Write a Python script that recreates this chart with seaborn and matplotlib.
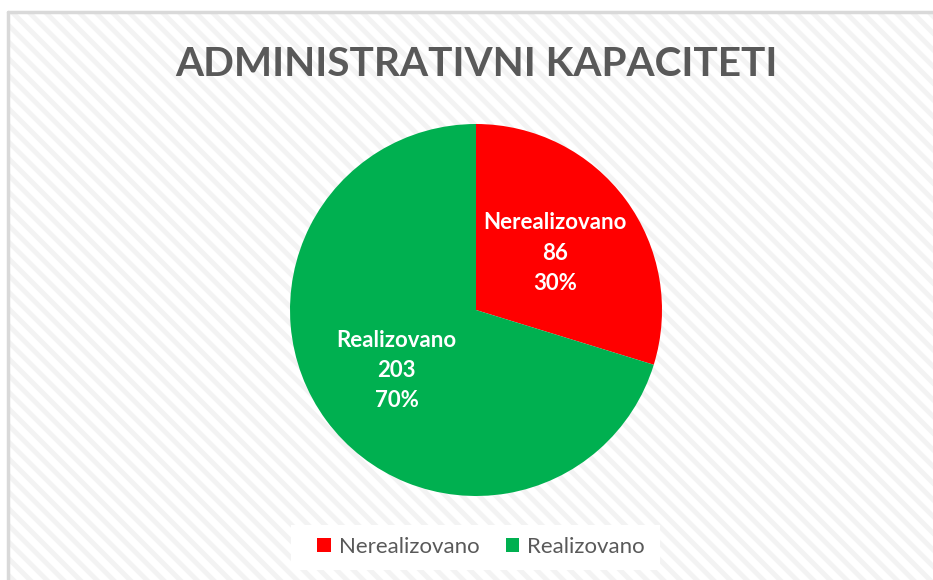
import matplotlib
matplotlib.use("Agg")
import matplotlib.pyplot as plt
from matplotlib.patches import Rectangle, Patch
from matplotlib.lines import Line2D
import numpy as np
import seaborn as sns

# data
categories = ["Nerealizovano", "Realizovano"]
counts = [86, 203]
colors = ["#ff0000", "#00b050"]
title = "ADMINISTRATIVNI KAPACITETI"

sns.set_style("white")
plt.rcParams["font.family"] = ["Lato", "DejaVu Sans"]
plt.rcParams["hatch.linewidth"] = 3.5
plt.rcParams["hatch.color"] = "#f3f3f3"

W, H = 933, 580
fig = plt.figure(figsize=(W / 100, H / 100), dpi=100)
fig.patch.set_facecolor("white")

# chart area with diagonal stripes and thin grey frame
x0 = 8 / W
top = (H - 12) / H
bg = Rectangle((x0, 0), 1 - x0 + 0.01, top, transform=fig.transFigure,
               facecolor="white", edgecolor="#f3f3f3", hatch="\\\\", linewidth=0, zorder=-2)
fig.patches.append(bg)
fig.add_artist(Line2D([x0, x0], [0, top], color="#d9d9d9", lw=2.5,
                      transform=fig.transFigure, zorder=-1))
fig.add_artist(Line2D([x0, 1], [top, top], color="#d9d9d9", lw=2.5,
                      transform=fig.transFigure, zorder=-1))

fig.text(476 / W, 1 - 65 / H, title, ha="center", va="center", fontsize=29.2,
         fontweight="bold", color="#595959")

# pie
cx, cy, r = 476, 310, 186
ax = fig.add_axes([(cx - r) / W, 1 - (cy + r) / H, 2 * r / W, 2 * r / H])
ax.set_aspect("equal")
total = sum(counts)

wedges = ax.pie(counts, colors=colors, startangle=90, counterclock=False,
                wedgeprops={"linewidth": 0})[0]
for w, c, n in zip(wedges, counts, categories):
    ang = np.deg2rad((w.theta1 + w.theta2) / 2)
    pct = 100 * c / total
    ax.text(0.53 * np.cos(ang), 0.53 * np.sin(ang) - 0.01, f"{n}\n{c}\n{pct:.0f}%",
            ha="center", va="center", color="white", fontsize=16,
            fontweight="bold", linespacing=1.55)
ax.set_xlim(-1, 1)
ax.set_ylim(-1, 1)
ax.axis("off")

# legend
lx, ly, lw, lh = 291, 525, 369, 45
fig.patches.append(Rectangle((lx / W, 1 - (ly + lh) / H), lw / W, lh / H,
                             transform=fig.transFigure, facecolor="white",
                             edgecolor="none", zorder=-1))
handles = [Patch(facecolor=c, edgecolor="none") for c in colors]
leg = fig.legend(handles, categories, loc="center", bbox_to_anchor=(481 / W, 1 - 547 / H),
                 ncol=2, frameon=False, fontsize=16, handlelength=0.6, handleheight=0.6,
                 handletextpad=0.35, columnspacing=1.2)
for t in leg.get_texts():
    t.set_color("#595959")

fig.savefig("out.png", dpi=100)
